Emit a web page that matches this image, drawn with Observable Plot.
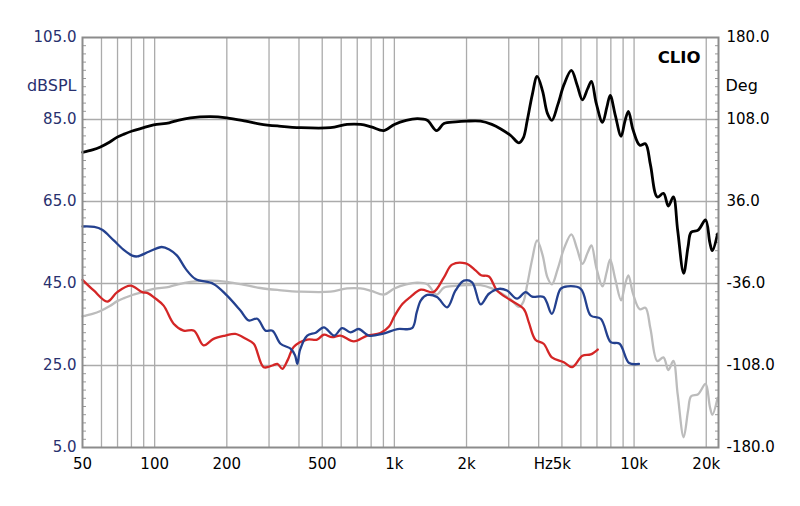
<!DOCTYPE html>
<html><head><meta charset="utf-8">
<script src="https://cdn.jsdelivr.net/npm/d3@7"></script>
<script src="https://cdn.jsdelivr.net/npm/@observablehq/plot@0.6"></script>
<style>body{margin:0;background:#fff;}</style>
</head><body><div id="chart"></div>
<script>
// Tick / grid definitions
const xGridFreqs = [60,70,80,90,100,200,300,400,500,600,700,800,900,1000,2000,3000,4000,5000,6000,7000,8000,9000,10000,20000];
const xTickFreqs = [50,100,200,500,1000,2000,5000,10000,20000];
const xTickLabels = ["50","100","200","500","1k","2k","5k","10k","20k"];
const yGridLines = [25,45,65,85];
const yTicks = [5,25,45,65,85,105];
const yTickLabels = ["5.0","25.0","45.0","65.0","85.0","105.0"];
const degTickLabels = ["-180.0","-108.0","-36.0","36.0","108.0","180.0"];
const minorTicks = [5,7,9,11,13,15,17,19,21,23,25,27,29,31,33,35,37,39,41,43,45,47,49,51,53,55,57,59,61,63,65,67,69,71,73,75,77,79,81,83,85,87,89,91,93,95,97,99,101,103,105];

// Series: [frequency Hz, dBSPL]
const blackSeries = [[50,77.0],[55,77.6],[59.4,78.3],[65,79.5],[69.8,80.7],[75,81.5],[80.6,82.2],[90,83.0],[99,83.7],[115,84.2],[125,84.8],[141,85.4],[171,85.7],[200,85.4],[240,84.6],[276,83.9],[330,83.4],[406,83.0],[541,83.0],[635,83.8],[723,83.8],[800,83.2],[905,82.3],[1000,83.8],[1120,84.8],[1247,85.2],[1371,84.8],[1500,82.3],[1610,84.0],[1800,84.4],[2000,84.6],[2290,84.6],[2550,83.8],[2780,82.7],[3057,81.1],[3310,79.3],[3450,80.5],[3585,84.8],[3760,91.0],[3940,95.5],[4150,92.0],[4350,86.5],[4540,84.8],[4800,88.5],[5100,93.5],[5475,97.0],[5780,93.5],[6090,89.8],[6400,92.5],[6640,94.3],[6950,89.0],[7385,84.3],[7700,88.0],[7950,90.9],[8350,86.0],[8830,80.9],[9150,84.5],[9470,87.0],[9900,82.5],[10570,78.7],[11150,79.1],[11700,74.0],[12500,66.1],[13260,67.0],[13900,63.9],[14580,66.1],[15200,58.0],[16100,47.5],[16800,54.0],[17300,57.5],[18500,58.0],[19870,60.5],[20700,55.0],[21200,53.0],[22300,57.1]];

const greySeries = [[50,37.0],[55,37.6],[59.4,38.3],[65,39.5],[69.8,40.7],[75,41.5],[80.6,42.2],[90,43.0],[99,43.7],[115,44.2],[125,44.8],[141,45.4],[171,45.7],[200,45.4],[240,44.6],[276,43.9],[330,43.4],[406,43.0],[541,43.0],[635,43.8],[723,43.8],[800,43.2],[905,42.3],[1000,43.8],[1120,44.8],[1247,45.2],[1371,44.8],[1500,42.3],[1610,44.0],[1800,44.4],[2000,44.6],[2290,44.6],[2550,43.8],[2780,42.7],[3057,41.1],[3310,39.3],[3450,40.5],[3585,44.8],[3760,51.0],[3940,55.5],[4150,52.0],[4350,46.5],[4540,44.8],[4800,48.5],[5100,53.5],[5475,57.0],[5780,53.5],[6090,49.8],[6400,52.5],[6640,54.3],[6950,49.0],[7385,44.3],[7700,48.0],[7950,50.9],[8350,46.0],[8830,40.9],[9150,44.5],[9470,47.0],[9900,42.5],[10570,38.7],[11150,39.1],[11700,34.0],[12500,26.1],[13260,27.0],[13900,23.9],[14580,26.1],[15200,18.0],[16100,7.5],[16800,14.0],[17300,17.5],[18500,18.0],[19870,20.5],[20700,15.0],[21200,13.0],[22300,17.1]];

const blueSeries = [[50,58.9],[56,58.8],[60.4,58.1],[67.5,55.5],[75,53.0],[80.6,51.8],[84.5,51.6],[95,52.8],[107,53.9],[115,53.3],[124,51.8],[135,48.5],[148,46.1],[176,44.9],[200,42.1],[228,38.4],[247,36.0],[268,36.4],[290,33.5],[310,33.5],[335,30.3],[369,29.1],[385,27.5],[394,25.4],[404,28.8],[433,32.3],[470,33.0],[508,34.3],[561,32.3],[605,34.1],[656,33.1],[710,33.9],[782,32.3],[890,32.7],[1030,33.9],[1185,34.1],[1240,38.0],[1290,40.9],[1371,42.2],[1505,41.7],[1660,39.2],[1800,43.3],[1950,45.7],[2110,45.3],[2290,39.9],[2480,42.5],[2730,43.7],[2950,43.3],[3250,41.3],[3525,42.9],[3755,41.8],[4195,41.7],[4540,37.6],[4935,43.7],[5270,44.3],[5990,43.7],[6590,37.2],[7260,36.4],[7990,30.7],[8700,30.3],[9540,25.6],[10480,25.4]];

const redSeries = [[50,45.9],[55.7,43.3],[63.4,40.6],[69.8,42.9],[79.3,44.5],[88.7,42.9],[94,42.6],[100,41.5],[109,39.6],[120,35.2],[132,33.5],[146,33.5],[160,29.9],[176,31.5],[197,32.3],[217,32.7],[240,31.5],[259,30.3],[285,24.6],[310,25.0],[325,25.4],[341,24.2],[360,26.5],[380,29.5],[433,31.3],[476,31.3],[508,32.5],[550,31.9],[596,32.3],[677,30.9],[771,32.3],[874,32.9],[950,34.5],[1000,37.0],[1080,40.0],[1165,41.7],[1290,43.5],[1455,42.9],[1610,46.5],[1740,49.6],[1985,49.9],[2180,48.2],[2300,47.0],[2480,46.7],[2680,43.3],[3057,40.9],[3465,38.8],[3635,35.6],[3875,31.3],[4195,30.3],[4540,27.0],[5090,25.8],[5520,24.6],[6090,27.4],[6590,27.7],[7055,28.9]];

const yLabelOf = new Map(yTicks.map((t, i) => [t, yTickLabels[i]]));
const degLabelOf = new Map(yTicks.map((t, i) => [t, degTickLabels[i]]));

const navy = "#28306e";
const gridColor = "#ababab";
const lineOpts = (stroke, w) => ({x: d => d[0], y: d => d[1], stroke, strokeWidth: w, curve: "catmull-rom", strokeLinejoin: "round"});

const chart = Plot.plot({
  width: 800, height: 506,
  marginLeft: 82, marginRight: 82, marginTop: 37, marginBottom: 59,
  x: {type: "log", domain: [50, 22500], axis: null},
  y: {domain: [5, 105]},
  style: {fontFamily: "'DejaVu Sans', sans-serif", fontSize: "15px", background: "#fff", color: "#000"},
  marks: [
    Plot.ruleX(xGridFreqs, {stroke: gridColor, strokeWidth: 1.3}),
    Plot.ruleY(yGridLines, {stroke: gridColor, strokeWidth: 1.3}),
    Plot.axisY(minorTicks, {anchor: "left", tickSize: -4, tickFormat: () => "", stroke: "#999", label: null}),
    Plot.axisY(minorTicks, {anchor: "right", tickSize: -4, tickFormat: () => "", stroke: "#999", label: null}),
    Plot.line(greySeries, lineOpts("#bcbcbc", 2.3)),
    Plot.line(redSeries, lineOpts("#d42626", 2.3)),
    Plot.line(blueSeries, lineOpts("#24418f", 2.3)),
    Plot.line(blackSeries, lineOpts("#000000", 2.8)),
    Plot.frame({stroke: "#8c8c8c", strokeWidth: 2}),
    Plot.axisY(yTicks, {anchor: "left", tickSize: 0, tickPadding: 6, tickFormat: d => yLabelOf.get(d), fill: navy, fontSize: 15, label: null}),
    Plot.axisY(yTicks, {anchor: "right", tickSize: 0, tickPadding: 8, tickFormat: d => degLabelOf.get(d), fill: "#000", fontSize: 15, label: null}),
    Plot.text(xTickFreqs, {x: d => d, text: (d, i) => xTickLabels[i], frameAnchor: "bottom", dy: 21, textAnchor: "middle", fill: "#000", fontSize: 15}),
    Plot.text(["Hz"], {x: [5000], frameAnchor: "bottom", dy: 21, dx: -9, textAnchor: "end", fill: "#000", fontSize: 15}),
    Plot.text(["dBSPL"], {frameAnchor: "top-left", dx: -6, dy: 42, textAnchor: "end", fill: navy, fontSize: 16, letterSpacing: 1.5}),
    Plot.text(["Deg"], {frameAnchor: "top-right", dx: 7, dy: 42, textAnchor: "start", fill: "#000", fontSize: 16}),
    Plot.text(["CLIO"], {frameAnchor: "top-right", dx: -18, dy: 14, textAnchor: "end", fill: "#000", fontSize: 16.5, fontWeight: "bold"})
  ]
});
document.getElementById("chart").appendChild(chart);
</script>
</body></html>
